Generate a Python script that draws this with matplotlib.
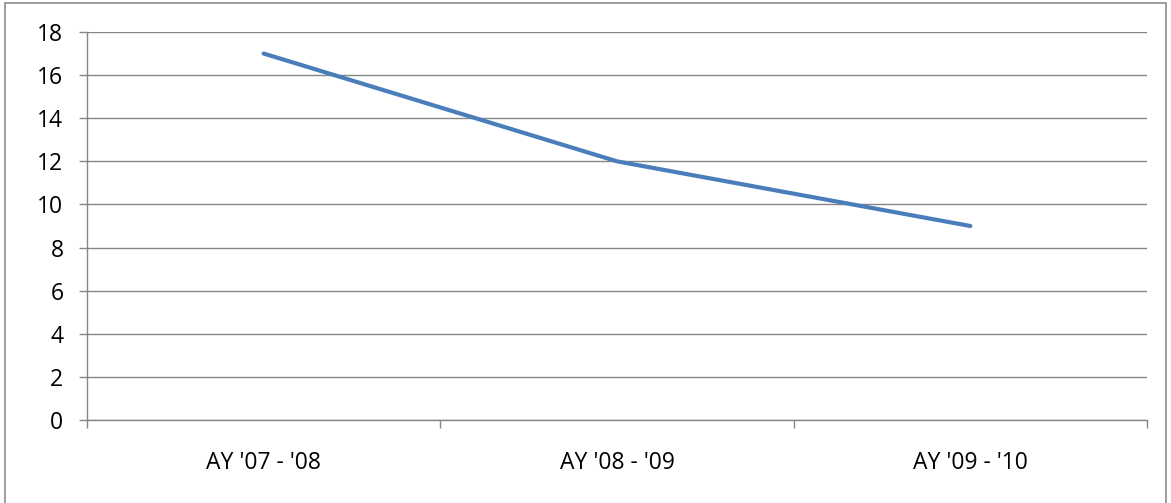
import matplotlib.pyplot as plt
from matplotlib.patches import Rectangle

# data
categories = ["AY '07 - '08", "AY '08 - '09", "AY '09 - '10"]
values = [17, 12, 9]
y_ticks = [0, 2, 4, 6, 8, 10, 12, 14, 16, 18]

plt.rcParams['font.family'] = ['Open Sans', 'DejaVu Sans']

W, H = 1171, 503
fig = plt.figure(figsize=(W / 100, H / 100), dpi=100)

# outer chart border
fig.patches.append(Rectangle((5 / W, -0.01), (1166 - 5) / W, 1 - 3 / H + 0.01,
                             transform=fig.transFigure, fill=False,
                             edgecolor='#8c8c8c', linewidth=1.2))

ax = fig.add_axes([87 / W, 1 - 420 / H, (1147 - 87) / W, (420 - 32) / H])

x = [i + 0.5 for i in range(len(categories))]
ax.plot(x, values, color='#4a7ebb', linewidth=3.0, solid_capstyle='round')

ax.set_xlim(0, len(categories))
ax.set_ylim(0, 18)
ax.set_yticks(y_ticks)
ax.set_xticks(range(len(categories) + 1))
ax.set_xticklabels([''] * (len(categories) + 1))
ax.set_xticks(x, minor=True)
ax.set_xticklabels(categories, minor=True)
ax.tick_params(axis='x', which='minor', length=0, pad=22, labelsize=16.5)
ax.tick_params(axis='x', which='major', length=6, color='#868686', width=1)
ax.tick_params(axis='y', length=6, color='#868686', width=1, pad=11, labelsize=16.5)

ax.grid(axis='y', color='#868686', linewidth=1)
ax.set_axisbelow(True)
for s in ['top', 'right']:
    ax.spines[s].set_visible(False)
for s in ['left', 'bottom']:
    ax.spines[s].set_color('#868686')
    ax.spines[s].set_linewidth(1)

fig.savefig('out.png', dpi=100, facecolor='white')
